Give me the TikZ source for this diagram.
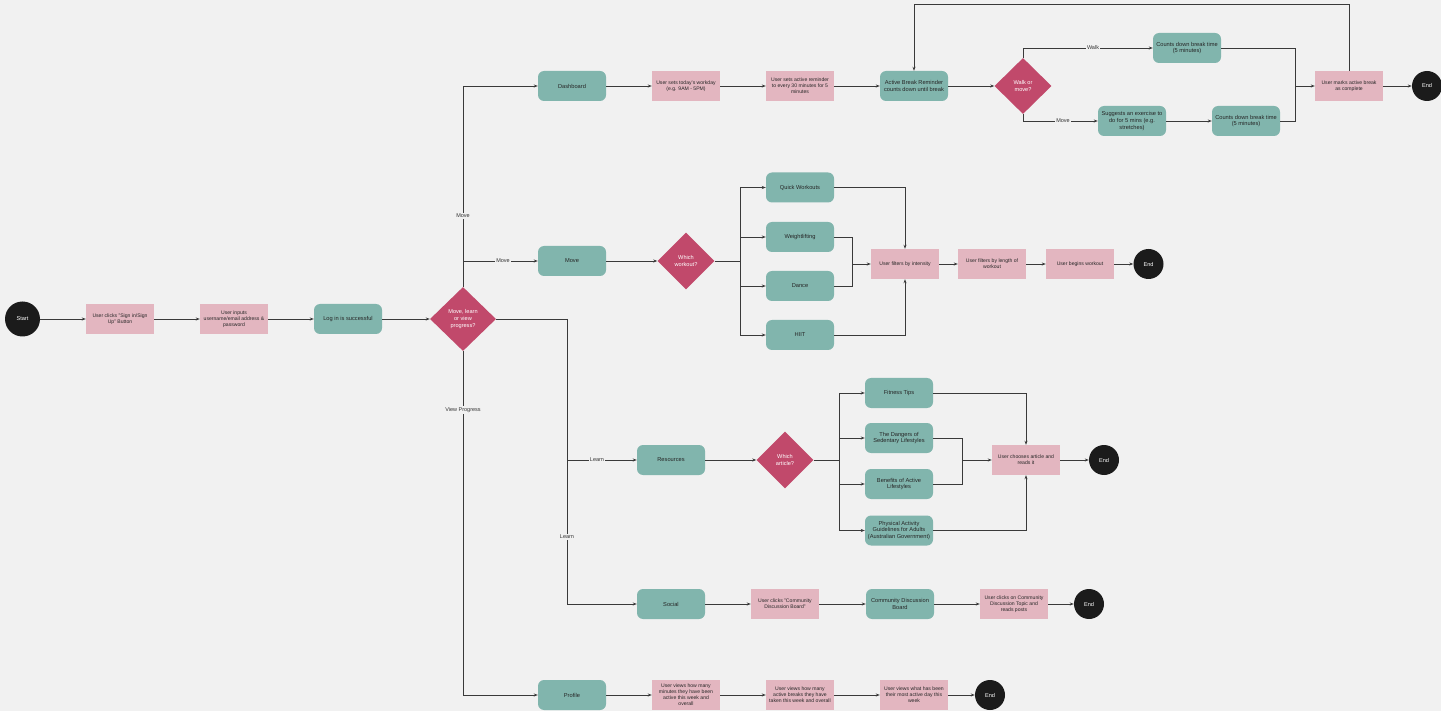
\documentclass[tikz,border=0pt]{standalone}
\usepackage{fontspec}
\setmainfont{Liberation Sans}
\usetikzlibrary{shapes.geometric,arrows.meta}
\definecolor{bgc}{HTML}{F1F1F1}
\definecolor{tealc}{HTML}{81B5AD}
\definecolor{pinkc}{HTML}{E3B6C0}
\definecolor{crim}{HTML}{C1496B}
\definecolor{blk}{HTML}{1B1B1B}
\definecolor{linec}{HTML}{3A3A3A}
\tikzset{
  tealbox/.style={rectangle, rounded corners=6pt, fill=tealc, minimum width=68pt, minimum height=30pt, inner sep=1pt, align=center, font=\fontsize{5.7}{6.8}\selectfont, text=black!85},
  pinkbox/.style={rectangle, fill=pinkc, minimum width=68pt, minimum height=30pt, inner sep=1pt, align=center, font=\fontsize{5.1}{6.1}\selectfont, text=black!85},
  decision/.style={diamond, fill=crim, inner sep=0pt, align=center, text=white, font=\fontsize{5.6}{6.6}\selectfont},
  startc/.style={circle, fill=blk, minimum size=35pt, inner sep=0pt, text=white, font=\fontsize{5.6}{6.6}\selectfont},
  endc/.style={circle, fill=blk, minimum size=30pt, inner sep=0pt, text=white, font=\fontsize{5.6}{6.6}\selectfont},
  conn/.style={draw=linec, line width=0.8pt},
  arr/.style={conn, -{Stealth[length=4pt,width=3pt]}},
  lbl/.style={fill=bgc, inner sep=1pt, font=\fontsize{5.5}{6.5}\selectfont, text=black!80},
}
\begin{document}
\begin{tikzpicture}[x=1pt,y=-1pt]
\useasboundingbox (0,0) rectangle (1441,711);
\fill[bgc] (0,0) rectangle (1441,711);

% main row
\node[startc] (start) at (22.5,319) {Start};
\node[pinkbox] (signin) at (120,319) {User clicks "Sign in/Sign\\Up" Button};
\node[pinkbox] (inputs) at (234,319) {User inputs\\username/email address \&\\password};
\node[tealbox] (login) at (348,319) {Log in is successful};
\node[decision, minimum width=66pt, minimum height=64pt] (dmain) at (463,319) {Move, learn\\or view\\progress?};

% dashboard row
\node[tealbox] (dash) at (572,86) {Dashboard};
\node[pinkbox] (workday) at (686,86) {User sets today's workday\\(e.g. 9AM - 5PM)};
\node[pinkbox] (remind) at (800,86) {User sets active reminder\\to every 30 minutes for 5\\minutes};
\node[tealbox] (abr) at (914,86) {Active Break Reminder\\counts down until break};
\node[decision, minimum width=57pt, minimum height=56pt] (dwalk) at (1023,86) {Walk or\\move?};
\node[tealbox] (cd1) at (1187,48) {Counts down break time\\(5 minutes)};
\node[tealbox] (suggest) at (1132,121) {Suggests an exercise to\\do for 5 mins (e.g.\\stretches)};
\node[tealbox] (cd2) at (1246,121) {Counts down break time\\(5 minutes)};
\node[pinkbox] (marks) at (1349,86) {User marks active break\\as complete};
\node[endc] (end1) at (1427,86) {End};

% move row
\node[tealbox] (move) at (572,261) {Move};
\node[decision, minimum width=57pt, minimum height=57pt] (dwork) at (686,261) {Which\\workout?};
\node[tealbox] (quick) at (800,187.5) {Quick Workouts};
\node[tealbox] (weight) at (800,237) {Weightlifting};
\node[tealbox] (dance) at (800,286) {Dance};
\node[tealbox] (hiit) at (800,335) {HIIT};
\node[pinkbox] (filt1) at (905,264) {User filters by intensity};
\node[pinkbox] (filt2) at (992,264) {User filters by length of\\workout};
\node[pinkbox] (begin) at (1080,264) {User begins workout};
\node[endc] (end2) at (1148.5,264) {End};

% learn row
\node[tealbox] (res) at (671,460) {Resources};
\node[decision, minimum width=57pt, minimum height=57pt] (dart) at (785,460) {Which\\article?};
\node[tealbox] (tips) at (899,393) {Fitness Tips};
\node[tealbox] (danger) at (899,438) {The Dangers of\\Sedentary Lifestyles};
\node[tealbox] (benefit) at (899,484) {Benefits of Active\\Lifestyles};
\node[tealbox] (phys) at (899,530.5) {Physical Activity\\Guidelines for Adults\\(Australian Government)};
\node[pinkbox] (choose) at (1026,460) {User chooses article and\\reads it};
\node[endc] (end3) at (1104,460) {End};

% social row
\node[tealbox] (social) at (671,604) {Social};
\node[pinkbox] (clickcdb) at (785,604) {User clicks "Community\\Discussion Board"};
\node[tealbox] (cdb) at (900,604) {Community Discussion\\Board};
\node[pinkbox] (topic) at (1014,604) {User clicks on Community\\Discussion Topic and\\reads posts};
\node[endc] (end4) at (1089,604) {End};

% profile row
\node[tealbox] (profile) at (572,695) {Profile};
\node[pinkbox] (views1) at (686,695) {User views how many\\minutes they have been\\active this week and\\overall};
\node[pinkbox] (views2) at (800,695) {User views how many\\active breaks they have\\taken this week and overall};
\node[pinkbox] (views3) at (914,695) {User views what has been\\their most active day this\\week};
\node[endc] (end5) at (990,695) {End};

% junction coordinates
\coordinate (jm) at (463,261);
\coordinate (jl) at (567,319);
\coordinate (jr) at (567,460);
\coordinate (jw) at (1295,86);
\coordinate (loopc) at (914,4);
\coordinate (jwk) at (740,261);
\coordinate (jwd) at (852,264);
\coordinate (ja) at (839,460);
\coordinate (jdb) at (962,460);

% main connectors
\draw[arr] (start) -- (signin);
\draw[arr] (signin) -- (inputs);
\draw[arr] (inputs) -- (login);
\draw[arr] (login) -- (dmain);
\draw[arr] (dmain.north) |- (dash.west);
\draw[arr] (jm) -- (move);
\draw[arr] (dmain.south) |- (profile.west);
\draw[conn] (dmain.east) -- (jl);
\draw[arr] (jl) |- (social.west);
\draw[arr] (jr) -- (res);

% dashboard
\draw[arr] (dash) -- (workday);
\draw[arr] (workday) -- (remind);
\draw[arr] (remind) -- (abr);
\draw[arr] (abr) -- (dwalk);
\draw[arr] (dwalk.north) |- (cd1.west);
\draw[arr] (dwalk.south) |- (suggest.west);
\draw[arr] (suggest) -- (cd2);
\draw[conn] (cd1.east) -| (jw);
\draw[conn] (cd2.east) -| (jw);
\draw[arr] (jw) -- (marks);
\draw[arr] (marks) -- (end1);
\draw[arr] (marks.north) |- (loopc) -- (abr.north);

% move
\draw[arr] (move) -- (dwork);
\draw[conn] (dwork.east) -- (jwk);
\draw[arr] (jwk) |- (quick.west);
\draw[arr] (jwk) |- (weight.west);
\draw[arr] (jwk) |- (dance.west);
\draw[arr] (jwk) |- (hiit.west);
\draw[conn] (weight.east) -| (jwd);
\draw[conn] (dance.east) -| (jwd);
\draw[arr] (jwd) -- (filt1);
\draw[arr] (quick.east) -| (filt1.north);
\draw[arr] (hiit.east) -| (filt1.south);
\draw[arr] (filt1) -- (filt2);
\draw[arr] (filt2) -- (begin);
\draw[arr] (begin) -- (end2);

% learn
\draw[arr] (res) -- (dart);
\draw[conn] (dart.east) -- (ja);
\draw[arr] (ja) |- (tips.west);
\draw[arr] (ja) |- (danger.west);
\draw[arr] (ja) |- (benefit.west);
\draw[arr] (ja) |- (phys.west);
\draw[conn] (danger.east) -| (jdb);
\draw[conn] (benefit.east) -| (jdb);
\draw[arr] (jdb) -- (choose);
\draw[arr] (tips.east) -| (choose.north);
\draw[arr] (phys.east) -| (choose.south);
\draw[arr] (choose) -- (end3);

% social
\draw[arr] (social) -- (clickcdb);
\draw[arr] (clickcdb) -- (cdb);
\draw[arr] (cdb) -- (topic);
\draw[arr] (topic) -- (end4);

% profile
\draw[arr] (profile) -- (views1);
\draw[arr] (views1) -- (views2);
\draw[arr] (views2) -- (views3);
\draw[arr] (views3) -- (end5);

% labels
\node[lbl] (lb1) at (463,216) {Move};
\node[lbl] (lb2) at (503,261) {Move};
\node[lbl] (lb3) at (463,410) {View Progress};
\node[lbl] (lb4) at (597,460) {Learn};
\node[lbl] (lb5) at (567,537) {Learn};
\node[lbl] (lb6) at (1093,48) {Walk};
\node[lbl] (lb7) at (1063,121) {Move};
\end{tikzpicture}
\end{document}
